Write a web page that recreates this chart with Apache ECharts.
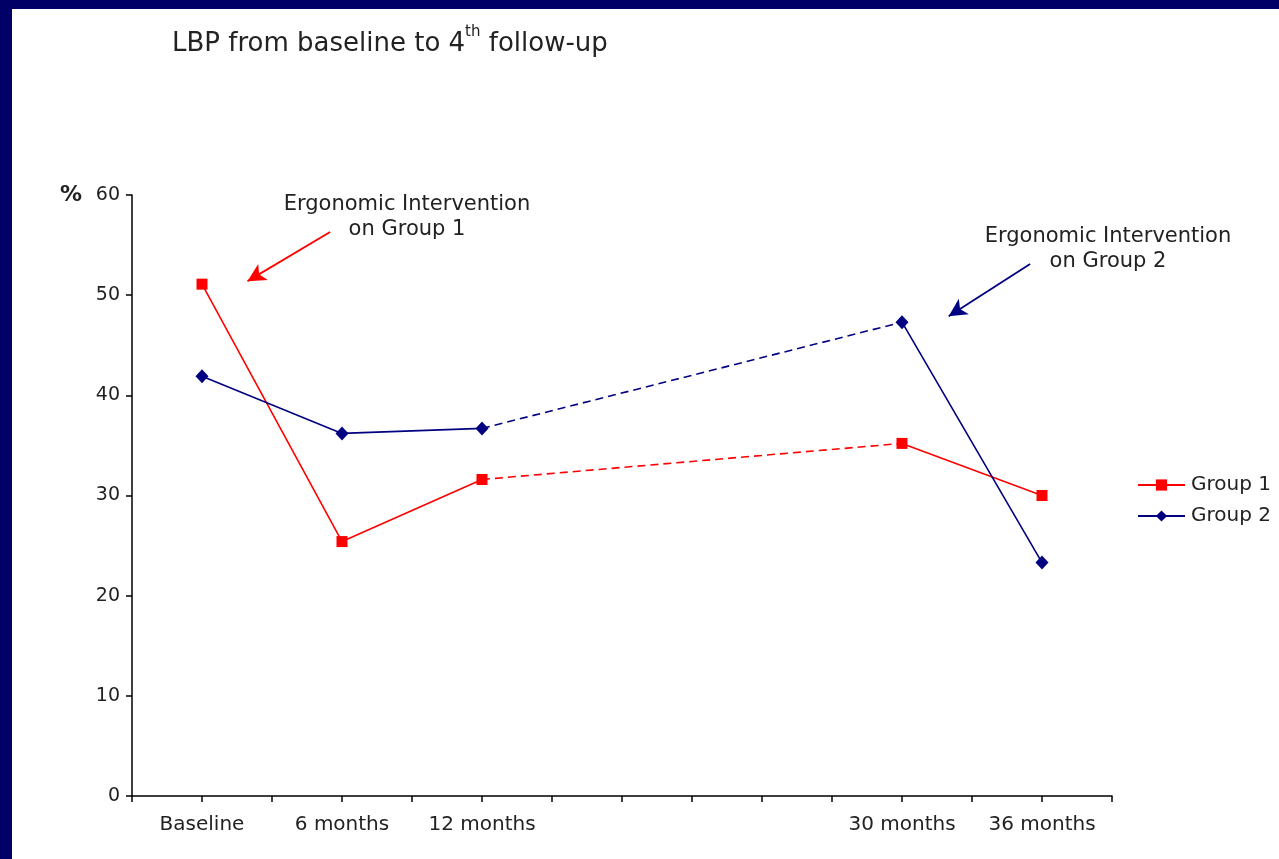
<!DOCTYPE html>
<html>
<head>
<meta charset="utf-8">
<title>LBP from baseline to 4th follow-up</title>
<script src="https://cdn.jsdelivr.net/npm/echarts@6/dist/echarts.min.js"></script>
<style>
  html, body { margin: 0; padding: 0; width: 1279px; height: 859px; background: #000066; overflow: hidden; }
  #panel { position: absolute; left: 12px; top: 9px; width: 1267px; height: 850px; background: #ffffff; }
  #chart { position: absolute; left: 0; top: 0; width: 1279px; height: 859px; }
</style>
</head>
<body>
<div id="panel"></div>
<div id="chart"></div>
<script>
// Follow-up time points (months since baseline) and their axis labels
const months = [0, 6, 12, 30, 36];
const categories = ['Baseline', '6 months', '12 months', '30 months', '36 months'];

// LBP prevalence (%) per group at each time point
const group1 = [51.1, 25.4, 31.6, 35.2, 30.0];
const group2 = [41.9, 36.2, 36.7, 47.3, 23.3];

// y-axis tick values
const yTicks = [0, 10, 20, 30, 40, 50, 60];

const RED = '#ff0000';
const NAVY = '#000080';
const FONT = 'DejaVu Sans';
const INK = '#222222';

// Solid segments: before 12 months and after 30 months, broken in between
function solidData(values) {
  const out = [];
  months.forEach((m, i) => {
    out.push([m, values[i]]);
    if (m === 12) out.push([21, '-']);
  });
  return out;
}
// Dashed bridge between the 12- and 30-month observations
function dashedData(values) {
  const a = months.indexOf(12), b = months.indexOf(30);
  return [[months[a], values[a]], [months[b], values[b]]];
}

const labelFor = {};
months.forEach((m, i) => { labelFor[m] = categories[i]; });

const chart = echarts.init(document.getElementById('chart'));

chart.setOption({
  animation: false,
  textStyle: { fontFamily: FONT },
  title: {
    left: 167,
    top: 20,
    text: '{t|LBP from baseline to 4}{s|th}{t| follow-up}',
    textStyle: {
      rich: {
        t: { fontFamily: FONT, fontSize: 26, fontWeight: 'normal', color: INK, verticalAlign: 'bottom', lineHeight: 32 },
        s: { fontFamily: FONT, fontSize: 15, fontWeight: 'normal', color: INK, verticalAlign: 'top', lineHeight: 32, padding: [0, 0, 13, 0] }
      }
    }
  },
  grid: { left: 132, right: 167, top: 195, bottom: 63, containLabel: false },
  legend: {
    orient: 'vertical',
    left: 1137,
    top: 475,
    padding: 0,
    itemWidth: 47,
    itemHeight: 14,
    itemGap: 11,
    textStyle: { fontFamily: FONT, fontSize: 20, color: INK, padding: [0, 0, 0, 1] },
    data: ['Group 1', 'Group 2']
  },
  xAxis: {
    type: 'value',
    min: -3,
    max: 39,
    interval: 3,
    splitLine: { show: false },
    axisLine: { lineStyle: { color: '#000000', width: 1.5 } },
    axisTick: { length: 6, lineStyle: { color: '#000000', width: 1.5 } },
    axisLabel: {
      margin: 19,
      fontFamily: FONT,
      fontSize: 20,
      color: INK,
      showMinLabel: true,
      showMaxLabel: true,
      formatter: v => labelFor[v] || ''
    }
  },
  yAxis: {
    type: 'value',
    min: yTicks[0],
    max: yTicks[yTicks.length - 1],
    interval: 10,
    name: '%',
    nameLocation: 'end',
    nameGap: 0,
    nameTextStyle: {
      fontFamily: FONT, fontSize: 22, fontWeight: 'bold', color: INK,
      align: 'right', verticalAlign: 'middle', padding: [0, 50, 0, 0]
    },
    splitLine: { show: false },
    axisLine: { show: true, onZero: false, lineStyle: { color: '#000000', width: 1.5 } },
    axisTick: { show: true, length: 6, lineStyle: { color: '#000000', width: 1.5 } },
    axisLabel: { margin: 12, fontFamily: FONT, fontSize: 19, color: INK }
  },
  series: [
    {
      name: 'Group 1',
      type: 'line',
      data: solidData(group1),
      connectNulls: false,
      symbol: 'rect',
      symbolSize: 11,
      itemStyle: { color: RED },
      lineStyle: { color: RED, width: 1.6 },
      z: 3,
      markLine: {
        silent: true,
        symbol: ['none', 'arrow'],
        symbolSize: [14, 18],
        label: { show: false },
        lineStyle: { color: RED, width: 1.8, type: 'solid' },
        data: [[{ coord: [5.49, 56.3] }, { coord: [1.95, 51.4] }]]
      }
    },
    {
      name: 'Group 1',
      type: 'line',
      data: dashedData(group1),
      showSymbol: false,
      symbol: 'none',
      itemStyle: { color: RED },
      lineStyle: { color: RED, width: 1.6, type: [8, 5] },
      z: 2
    },
    {
      name: 'Group 2',
      type: 'line',
      data: solidData(group2),
      connectNulls: false,
      symbol: 'diamond',
      symbolSize: [13, 14],
      itemStyle: { color: NAVY },
      lineStyle: { color: NAVY, width: 1.6 },
      z: 3,
      markLine: {
        silent: true,
        symbol: ['none', 'arrow'],
        symbolSize: [14, 18],
        label: { show: false },
        lineStyle: { color: NAVY, width: 1.8, type: 'solid' },
        data: [[{ coord: [35.49, 53.1] }, { coord: [32.0, 47.9] }]]
      }
    },
    {
      name: 'Group 2',
      type: 'line',
      data: dashedData(group2),
      showSymbol: false,
      symbol: 'none',
      itemStyle: { color: NAVY },
      lineStyle: { color: NAVY, width: 1.6, type: [8, 5] },
      z: 2
    }
  ],
  graphic: [
    {
      type: 'text',
      x: 407, y: 192,
      style: {
        text: 'Ergonomic Intervention\non Group 1',
        font: '21px "DejaVu Sans"',
        fill: INK,
        align: 'center',
        lineHeight: 25
      }
    },
    {
      type: 'text',
      x: 1108, y: 224,
      style: {
        text: 'Ergonomic Intervention\non Group 2',
        font: '21px "DejaVu Sans"',
        fill: INK,
        align: 'center',
        lineHeight: 25
      }
    }
  ]
});
</script>
</body>
</html>
